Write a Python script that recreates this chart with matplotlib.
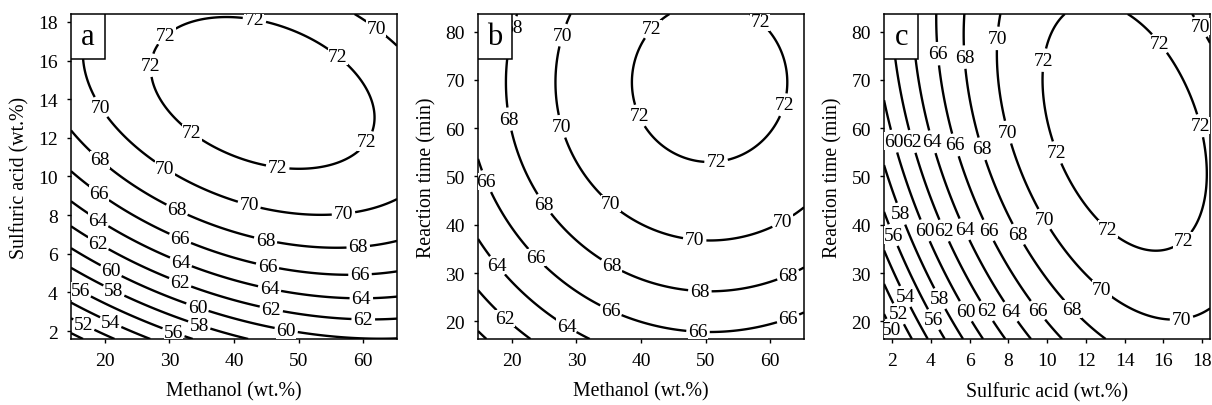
import matplotlib.pyplot as plt
import numpy as np
from matplotlib.patches import Rectangle

plt.rcParams["font.family"] = ["Liberation Serif", "DejaVu Serif"]

# factors: methanol, sulfuric acid, reaction time (coded = (value - center) / step)
axis_names = ["Methanol (wt.%)", "Sulfuric acid (wt.%)", "Reaction time (min)"]
centers = [40, 10, 50]
steps = [15, 5, 20]
alpha = 1.682

# quadratic response surface for the yield, coded units
b0 = 71.2
b_lin = [1.5, 4.26, 1.95]
b_sq = [-1.06, -2.29, -1.0]
b_int = {(0, 1): -1.01, (0, 2): 0.0, (1, 2): -1.15}

levels = [50, 52, 54, 56, 58, 60, 62, 64, 66, 68, 70, 72]
panel_names = ["a", "b", "c"]
pairs = [(0, 1), (0, 2), (1, 2)]
tick_values = [[20, 30, 40, 50, 60],
               [2, 4, 6, 8, 10, 12, 14, 16, 18],
               [20, 30, 40, 50, 60, 70, 80]]

label_spots = {
    "a": [(28.4, 17.7), (43.2, 18.2), (25.3, 15.8), (55.3, 15.9), (33.6, 12.3),
          (59.7, 12.0), (46.8, 10.6), (61.6, 17.5), (18.5, 13.4), (29.4, 10.5),
          (42.4, 8.6), (56.9, 8.2), (19.1, 10.8), (31.2, 8.3), (45.0, 6.9),
          (59.2, 6.45), (19.1, 9.1), (31.8, 6.9), (45.2, 5.4), (59.5, 4.9),
          (19.1, 7.8), (31.8, 5.6), (45.5, 4.2), (59.7, 3.6), (19.1, 6.6),
          (31.8, 4.65), (45.8, 3.2), (60.0, 2.6), (21.1, 5.2), (34.4, 3.3),
          (48.1, 2.1), (21.4, 4.1), (34.6, 2.3), (16.2, 4.05), (30.7, 2.0),
          (21.1, 2.6), (16.7, 2.3)],
    "b": [(41.6, 80.7), (58.8, 82.5), (40.1, 62.8), (61.9, 64.9), (51.6, 53.4),
          (27.8, 79.3), (27.8, 60.4), (35.5, 44.6), (48.3, 36.9), (61.9, 40.8),
          (20.6, 80.7), (19.3, 61.8), (25.0, 44.3), (35.5, 31.7), (49.1, 26.1),
          (62.9, 29.2), (15.7, 48.8), (23.7, 33.1), (35.2, 21.9), (48.8, 17.3),
          (62.9, 20.1), (17.5, 31.3), (28.3, 18.7), (18.6, 20.1)],
    "c": [(15.7, 77.2), (10.0, 74.0), (17.8, 60.4), (10.6, 55.1), (13.1, 39.0),
          (17.2, 35.9), (17.8, 80.7), (7.4, 78.6), (8.1, 59.3), (10.0, 41.5),
          (12.7, 26.1), (17.0, 18.4), (5.7, 74.7), (6.7, 55.8), (8.5, 38.0),
          (11.2, 22.2), (4.3, 75.4), (5.25, 56.5), (7.05, 39.0), (9.5, 22.2),
          (4.1, 57.2), (5.7, 39.0), (8.2, 22.2), (3.0, 57.2), (4.8, 39.0),
          (6.9, 22.2), (2.0, 57.2), (3.8, 39.0), (5.85, 22.2), (2.6, 42.5),
          (4.6, 25.0), (1.9, 37.6), (4.2, 20.5), (2.8, 25.4), (2.5, 21.9),
          (2.0, 18.4)],
}


def yield_at(coded):
    y = b0
    for i in range(3):
        y = y + b_lin[i] * coded[i] + b_sq[i] * coded[i] ** 2
    for (i, j), b in b_int.items():
        y = y + b * coded[i] * coded[j]
    return y


fig = plt.figure(figsize=(12.12, 4.06), dpi=100)
lefts = [0.0586, 0.3944, 0.7294]

for k in range(3):
    ax = fig.add_axes([lefts[k], 0.1626, 0.269, 0.8005])
    i, j = pairs[k]
    xs = np.linspace(centers[i] - alpha * steps[i], centers[i] + alpha * steps[i], 200)
    ys = np.linspace(centers[j] - alpha * steps[j], centers[j] + alpha * steps[j], 200)
    X, Y = np.meshgrid(xs, ys)
    coded = [np.zeros_like(X) for _ in range(3)]
    coded[i] = (X - centers[i]) / steps[i]
    coded[j] = (Y - centers[j]) / steps[j]
    Z = yield_at(coded)

    cs = ax.contour(X, Y, Z, levels=levels, colors="black", linewidths=1.7)
    texts = ax.clabel(cs, inline=True, fmt="%d", fontsize=14, inline_spacing=2,
                      manual=label_spots[panel_names[k]])
    for t in texts:
        t.set_rotation(0)
        t.set_bbox(dict(facecolor="white", edgecolor="none", pad=0.2))

    ax.set_xlim(xs[0], xs[-1])
    ax.set_ylim(ys[0], ys[-1])
    ax.set_xticks(tick_values[i])
    ax.set_yticks(tick_values[j])
    ax.tick_params(direction="out", length=3, width=1, labelsize=14, pad=6.5)
    for s in ax.spines.values():
        s.set_linewidth(1.1)
    ax.set_xlabel(axis_names[i], fontsize=14.3, labelpad=9)
    ax.set_ylabel(axis_names[j], fontsize=14.3, labelpad=6)

    ax.add_patch(Rectangle((0, 1 - 0.14), 0.105, 0.14, transform=ax.transAxes,
                           facecolor="white", edgecolor="black", lw=1.1, zorder=5))
    ax.text(0.0525, 1 - 0.07, panel_names[k], transform=ax.transAxes, fontsize=22,
            ha="center", va="center", zorder=6)

fig.savefig("out.png", dpi=100)
